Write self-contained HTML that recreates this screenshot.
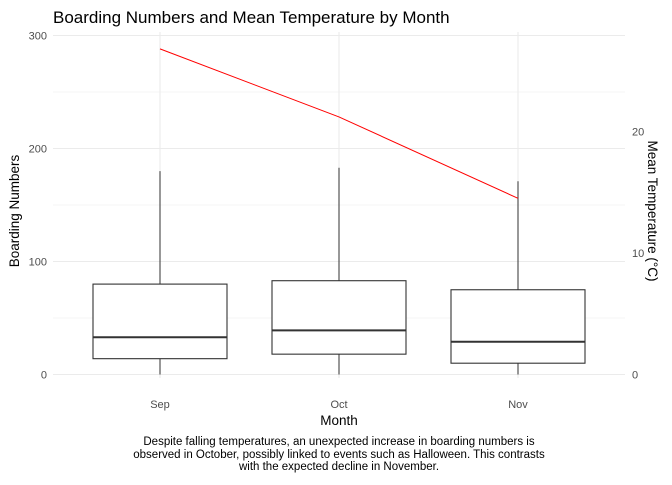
<!DOCTYPE html>
<html><head><meta charset="utf-8"><style>
body{margin:0;background:#fff;font-family:"Liberation Sans",sans-serif;}
</style></head><body>
<svg width="672" height="480" xmlns="http://www.w3.org/2000/svg" font-family="Liberation Sans, sans-serif">
<g id="grid"></g>
<g id="boxes"></g>
<g id="line"></g>
<g id="axes"></g>
<text x="53" y="23" font-size="17" fill="#000">Boarding Numbers and Mean Temperature by Month</text>
<text x="339" y="425" font-size="13.5" text-anchor="middle">Month</text>
<text transform="translate(19,211) rotate(-90)" font-size="13.5" text-anchor="middle">Boarding Numbers</text>
<text transform="translate(648,211) rotate(90)" font-size="13.5" text-anchor="middle">Mean Temperature (°C)</text>
<g font-size="11.5" text-anchor="middle">
<text x="339" y="445">Despite falling temperatures, an unexpected increase in boarding numbers is</text>
<text x="339" y="458">observed in October, possibly linked to events such as Halloween. This contrasts</text>
<text x="339" y="470">with the expected decline in November.</text>
</g>
</svg>
<script>
const months=["Sep","Oct","Nov"];
const whiskerMax=[180,183,171];
const q3=[80,83,75];
const medians=[33,39,29];
const q1=[14,18,10];
const whiskerMin=[0,0,0];
const temps=[26.8,21.2,14.5];
const yTicks=[0,100,200,300];
const y2Ticks=[0,10,20];
const NS="http://www.w3.org/2000/svg";
const y=v=>374.5-v*1.13;
const y2=v=>374.5-v*12.15;
const x=i=>160+i*179;
function mk(p,t,a){const e=document.createElementNS(NS,t);for(const k in a)e.setAttribute(k,a[k]);p.appendChild(e);return e;}
const g=document.getElementById('grid'),bx=document.getElementById('boxes'),ln=document.getElementById('line'),ax=document.getElementById('axes');
for(let v=0;v<=300;v+=50){const l=mk(g,'line',{x1:53,x2:625,y1:y(v),y2:y(v),stroke:'#ebebeb','stroke-width':v%100?0.6:1.1});

}
months.forEach((m,i)=>{const l=mk(g,'line',{x1:x(i),x2:x(i),y1:32,y2:378,stroke:'#ebebeb','stroke-width':1.1});


const t=mk(ax,'text',{x:x(i),y:408,'font-size':11,fill:'#4d4d4d','text-anchor':'middle'});t.textContent=m;


const b=mk(bx,'g',{});


mk(b,'line',{x1:x(i),x2:x(i),y1:y(whiskerMax[i]),y2:y(q3[i]),stroke:'#333','stroke-width':1});
mk(b,'line',{x1:x(i),x2:x(i),y1:y(q1[i]),y2:y(whiskerMin[i]),stroke:'#333','stroke-width':1});
mk(b,'rect',{x:x(i)-67,y:y(q3[i]),width:134,height:y(q1[i])-y(q3[i]),fill:'#fff',stroke:'#333','stroke-width':1.1});
mk(b,'line',{x1:x(i)-67,x2:x(i)+67,y1:y(medians[i]),y2:y(medians[i]),stroke:'#333','stroke-width':2});
});
mk(ln,'polyline',{points:temps.map((t,i)=>x(i)+','+y2(t)).join(' '),fill:'none',stroke:'red','stroke-width':1});
yTicks.forEach(v=>{const t=mk(ax,'text',{x:47,y:y(v)+4,'font-size':11,fill:'#4d4d4d','text-anchor':'end'});t.textContent=v;

});
y2Ticks.forEach(v=>{const t=mk(ax,'text',{x:632,y:y2(v)+4,'font-size':11,fill:'#4d4d4d','text-anchor':'start'});t.textContent=v;

});
</script>
</body></html>
